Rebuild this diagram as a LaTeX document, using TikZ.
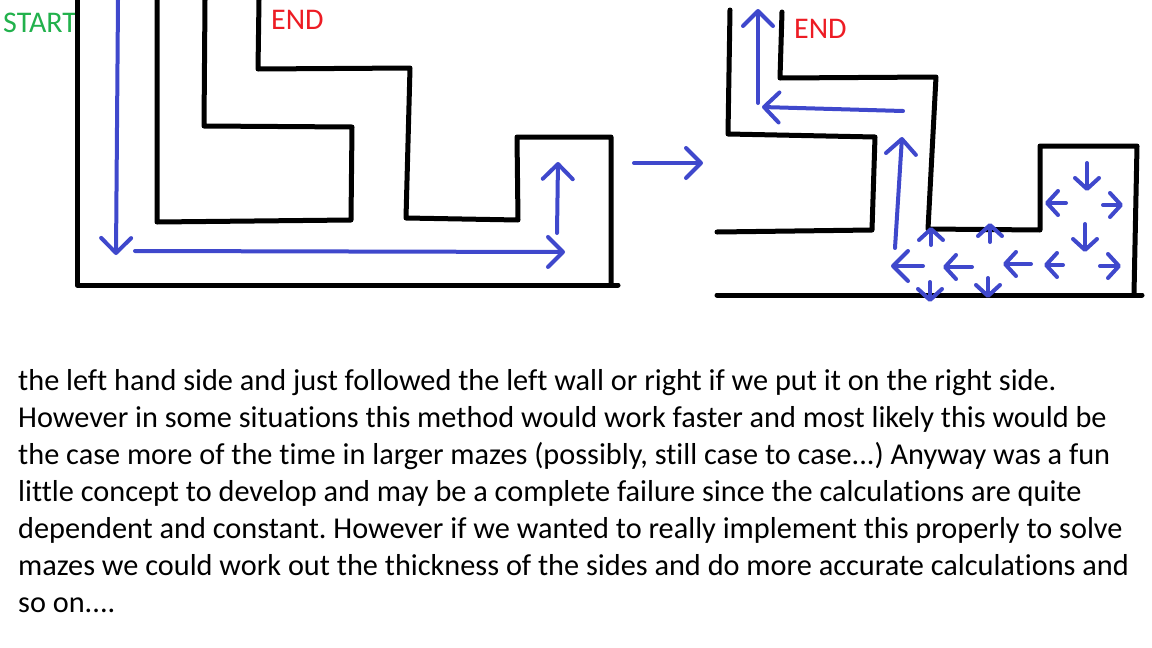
\documentclass[tikz,border=0pt]{standalone}
\usepackage{fontspec}
\setmainfont{Carlito}[Ligatures=NoCommon]
\usetikzlibrary{arrows.meta}
\definecolor{pathblue}{RGB}{63,72,204}
\definecolor{startgreen}{RGB}{34,177,76}
\definecolor{endred}{RGB}{237,28,36}
\frenchspacing

\begin{document}
\begin{tikzpicture}[x=1pt,y=-1pt,
	wall/.style={line width=5pt,line cap=round,line join=round},
	route/.style={pathblue,line width=4pt,line cap=round,-{Straight Barb[length=15pt,width=30pt,round]}},
	spread/.style={pathblue,line width=4pt,line cap=round,-{Straight Barb[length=11pt,width=24pt,round]}},
	tag/.style={anchor=north west,inner sep=0,font=\fontsize{30}{32}\selectfont},
	prose/.style={anchor=base west,inner sep=0,font=\fontsize{30.3}{37}\selectfont}]
	\useasboundingbox (0,0) rectangle (1152,648);
	\node[tag,text=startgreen] (start) at (3,13) {START};
	\node[tag,text=endred] (end1) at (271,10) {END};
	\node[tag,text=endred] (end2) at (794,19) {END};
	\draw[wall] (77,0) -- (77,285) -- (618,285);
	\draw[wall] (611,285) -- (611,137) -- (517,137) -- (518,220) -- (406,218) -- (410,68) -- (258,69) -- (259,0);
	\draw[wall] (157,0) -- (157,222) -- (351,220) -- (352,127) -- (204,126) -- (205,0);
	\draw[route] (118,0) -- (116,255);
	\draw[route] (135,251) -- (565,252);
	\draw[route] (557,233) -- (558,162);
	\draw[route] (634,163) -- (703,163);
	\draw[wall] (730,10) -- (728,134) -- (875,137) -- (872,230) -- (717,232);
	\draw[wall] (782,12) -- (780,78) -- (936,77) -- (928,229) -- (1040,230) -- (1040,146) -- (1137,146) -- (1134,294);
	\draw[wall] (717,295) -- (1142,295);
	\draw[route] (758,103) -- (758,9);
	\draw[route] (903,111) -- (762,107);
	\draw[route] (895,248) -- (902,137);
	\draw[route] (923,266) -- (891,266);
	\foreach \sx/\sy/\ex/\ey in {972/267/943/267,1031/264/1003/264,1063/265/1044/265,
		1100/266/1121/266,1103/205/1123/205,1066/203/1045/203,
		1087/163/1087/191,1085/224/1085/252,931/245/931/227,990/242/990/223,
		930/282/930/302,988/278/988/298}
		\draw[spread] (\sx,\sy) -- (\ex,\ey);
	\node[prose] (line1) at (18,390) {the left hand side and just followed the left wall or right if we put it on the right side.};
	\node[prose] (line2) at (18,427) {However in some situations this method would work faster and most likely this would be};
	\node[prose] (line3) at (18,464) {the case more of the time in larger mazes (possibly, still case to case...) Anyway was a fun};
	\node[prose] (line4) at (18,501) {little concept to develop and may be a complete failure since the calculations are quite};
	\node[prose] (line5) at (18,538) {dependent and constant. However if we wanted to really implement this properly to solve};
	\node[prose] (line6) at (18,575) {mazes we could work out the thickness of the sides and do more accurate calculations and};
	\node[prose] (line7) at (18,612) {so on....};
\end{tikzpicture}
\end{document}
